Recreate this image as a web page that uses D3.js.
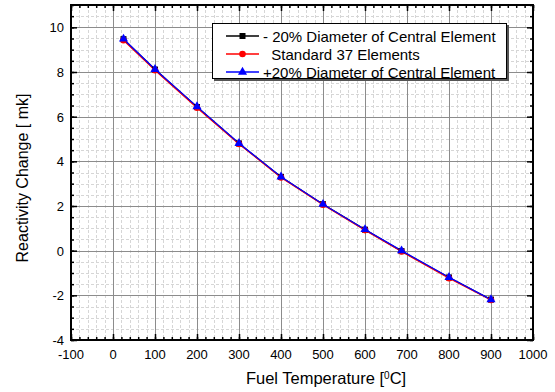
<!DOCTYPE html>
<html>
<head>
<meta charset="utf-8">
<script src="https://cdn.jsdelivr.net/npm/d3@7"></script>
<style>
  body { margin: 0; background: #fff; }
  text { font-family: "Liberation Sans", Arial, sans-serif; }
</style>
</head>
<body>
<svg id="chart" width="555" height="392"></svg>
<script>
// data
var temps = [25, 100, 200, 300, 400, 500, 600, 687, 800, 900];
var minus20 = [9.47, 8.11, 6.43, 4.80, 3.30, 2.08, 0.94, -0.02, -1.20, -2.19];
var standard = [9.42, 8.08, 6.40, 4.78, 3.28, 2.06, 0.92, -0.04, -1.23, -2.21];
var plus20 = [9.48, 8.12, 6.45, 4.81, 3.31, 2.08, 0.95, 0.00, -1.19, -2.19];
var seriesNames = ["- 20% Diameter of Central Element", "  Standard 37 Elements", "+20% Diameter of Central Element"];
var seriesColors = ["#000000", "#ff0000", "#0000ff"];
var xTicks = [-100, 0, 100, 200, 300, 400, 500, 600, 700, 800, 900, 1000];
var yTicks = [-4, -2, 0, 2, 4, 6, 8, 10];

var svg = d3.select("#chart");
var pLeft = 71, pRight = 533, pTop = 5, pBottom = 340;

var x = d3.scaleLinear().domain([-100, 1000]).range([pLeft, pRight]);
var y = d3.scaleLinear().domain([-4, 11]).range([pBottom, pTop]);

// minor grid
var xMinor = d3.range(-100, 1001, 20);
var yMinor = d3.range(-4, 11.01, 0.5);
svg.append("g").selectAll("line").data(xMinor).enter().append("line")
    .attr("x1", d => Math.round(x(d)) + 0.5).attr("x2", d => Math.round(x(d)) + 0.5)
    .attr("y1", pTop).attr("y2", pBottom)
    .attr("stroke", "#d6d6d6").attr("stroke-dasharray", "3,2");
svg.append("g").selectAll("line").data(yMinor).enter().append("line")
    .attr("y1", d => Math.round(y(d)) + 0.5).attr("y2", d => Math.round(y(d)) + 0.5)
    .attr("x1", pLeft).attr("x2", pRight)
    .attr("stroke", "#d6d6d6").attr("stroke-dasharray", "3,2");

// major grid
svg.append("g").selectAll("line").data(xTicks).enter().append("line")
    .attr("x1", d => Math.round(x(d)) + 0.5).attr("x2", d => Math.round(x(d)) + 0.5)
    .attr("y1", pTop).attr("y2", pBottom)
    .attr("stroke", "#8c8c8c");
svg.append("g").selectAll("line").data(yTicks).enter().append("line")
    .attr("y1", d => Math.round(y(d)) + 0.5).attr("y2", d => Math.round(y(d)) + 0.5)
    .attr("x1", pLeft).attr("x2", pRight)
    .attr("stroke", "#8c8c8c");

// axes with inward ticks
function tickAxis(axisFn, scale, transform, vals, size) {
    svg.append("g").attr("transform", transform)
        .call(axisFn(scale).tickValues(vals).tickSize(size).tickFormat(""))
        .call(g => g.select(".domain").remove())
        .selectAll("line").attr("stroke", "#000").attr("stroke-width", 1.5);
}
tickAxis(d3.axisBottom, x, "translate(0," + pBottom + ")", xMinor, -3);
tickAxis(d3.axisBottom, x, "translate(0," + pBottom + ")", xTicks, -6);
tickAxis(d3.axisTop, x, "translate(0," + pTop + ")", xMinor, -3);
tickAxis(d3.axisTop, x, "translate(0," + pTop + ")", xTicks, -6);
tickAxis(d3.axisLeft, y, "translate(" + pLeft + ",0)", yMinor, -3);
tickAxis(d3.axisLeft, y, "translate(" + pLeft + ",0)", yTicks, -6);
tickAxis(d3.axisRight, y, "translate(" + pRight + ",0)", yMinor, -3);
tickAxis(d3.axisRight, y, "translate(" + pRight + ",0)", yTicks, -6);

// frame
svg.append("rect").attr("x", pLeft).attr("y", pTop)
    .attr("width", pRight - pLeft).attr("height", pBottom - pTop)
    .attr("fill", "none").attr("stroke", "#000").attr("stroke-width", 2);

// tick labels
svg.append("g").selectAll("text").data(xTicks).enter().append("text")
    .attr("x", d => x(d)).attr("y", 359)
    .attr("text-anchor", "middle").attr("font-size", 13).text(d => d);
svg.append("g").selectAll("text").data(yTicks).enter().append("text")
    .attr("x", 64).attr("y", d => y(d) + 5)
    .attr("text-anchor", "end").attr("font-size", 13).text(d => d);

// axis titles
var xt = svg.append("text").attr("x", 326).attr("y", 384)
    .attr("text-anchor", "middle").attr("font-size", 16.5);
xt.append("tspan").text("Fuel Temperature [");
xt.append("tspan").attr("baseline-shift", "super").attr("font-size", 10).text("0");
xt.append("tspan").text("C]");
svg.append("text").attr("transform", "translate(28,178) rotate(-90)")
    .attr("text-anchor", "middle").attr("font-size", 16)
    .text("Reactivity Change [ mk]");

// series
var allSeries = [minus20, standard, plus20];
var line = d3.line().x((d, i) => x(temps[i])).y(d => y(d));
allSeries.forEach(function (vals, k) {
    svg.append("path").datum(vals).attr("d", line)
        .attr("fill", "none").attr("stroke", seriesColors[k]).attr("stroke-width", 1.3);
});
function marker(g, k, cx, cy) {
    if (k === 0) {
        g.append("rect").attr("x", cx - 3).attr("y", cy - 3).attr("width", 6).attr("height", 6)
            .attr("fill", seriesColors[k]);
    } else if (k === 1) {
        g.append("circle").attr("cx", cx).attr("cy", cy).attr("r", 3.3).attr("fill", seriesColors[k]);
    } else {
        g.append("path").attr("transform", "translate(" + cx + "," + cy + ")")
            .attr("d", d3.symbol().type(d3.symbolTriangle).size(36))
            .attr("fill", seriesColors[k]);
    }
}
allSeries.forEach(function (vals, k) {
    var g = svg.append("g");
    vals.forEach(function (v, i) { marker(g, k, x(temps[i]), y(v)); });
});

// legend
var lg = svg.append("g");
lg.append("rect").attr("x", 214).attr("y", 25).attr("width", 295).attr("height", 56).attr("fill", "#555");
lg.append("rect").attr("x", 212.5).attr("y", 23.5).attr("width", 294).attr("height", 55)
    .attr("fill", "#fff").attr("stroke", "#000");
seriesNames.forEach(function (name, k) {
    var ly = 36 + k * 18;
    lg.append("line").attr("x1", 226).attr("x2", 259).attr("y1", ly).attr("y2", ly)
        .attr("stroke", seriesColors[k]).attr("stroke-width", 1.3);
    marker(lg, k, 242.5, ly);
    lg.append("text").attr("x", 263).attr("y", ly + 5.5).attr("font-size", 15)
        .style("white-space", "pre").text(name);
});
</script>
</body>
</html>
